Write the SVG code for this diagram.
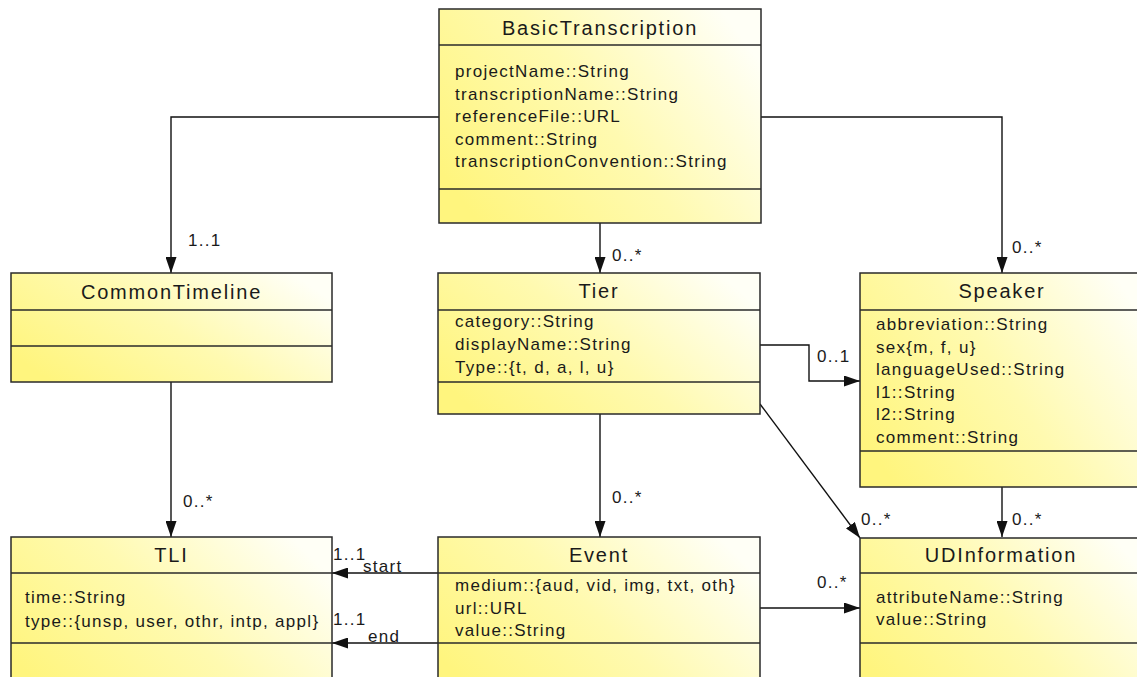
<svg xmlns="http://www.w3.org/2000/svg" width="1137" height="677" viewBox="0 0 1137 677">
<defs>
<linearGradient id="yg" x1="0" y1="0.75" x2="1" y2="0.25">
<stop offset="0" stop-color="#FFF57E"/>
<stop offset="0.5" stop-color="#FFFAB0"/>
<stop offset="1" stop-color="#FFFFF6"/>
</linearGradient>
<marker id="ah" markerUnits="userSpaceOnUse" markerWidth="16" markerHeight="11" refX="16" refY="5.5" orient="auto">
<path d="M0,0 L16,5.5 L0,11 z" fill="#111"/>
</marker>
</defs>
<style>
.box{fill:url(#yg);stroke:#2a2a2a;stroke-width:1.5}
.div{stroke:#2a2a2a;stroke-width:1.5}
.t{font-family:"Liberation Sans",Arial,sans-serif;font-size:20px;letter-spacing:1.8px;fill:#1a1a1a;text-anchor:middle}
.a{font-family:"Liberation Sans",Arial,sans-serif;font-size:17px;letter-spacing:1.3px;fill:#1a1a1a}
.c{fill:none;stroke:#111;stroke-width:1.4;marker-end:url(#ah)}
</style>
<rect width="1137" height="677" fill="#fff"/>

<g id="connectors">
<polyline class="c" points="439,117 171,117 171,273"/>
<polyline class="c" points="600,223 600,273"/>
<polyline class="c" points="761,117 1002,117 1002,273"/>
<polyline class="c" points="760,345 809,345 809,381 860,381"/>
<polyline class="c" points="760,404 860,538"/>
<polyline class="c" points="171,382 171,537"/>
<polyline class="c" points="600,414 600,537"/>
<polyline class="c" points="1002,487 1002,537"/>
<polyline class="c" points="760,608 860,608"/>
<polyline class="c" points="438,573 332,573"/>
<polyline class="c" points="438,643 332,643"/>
<text class="a" x="188" y="246">1..1</text>
<text class="a" x="612" y="261">0..*</text>
<text class="a" x="1012" y="253">0..*</text>
<text class="a" x="817" y="362">0..1</text>
<text class="a" x="861" y="525">0..*</text>
<text class="a" x="183" y="507">0..*</text>
<text class="a" x="612" y="503">0..*</text>
<text class="a" x="1012" y="525">0..*</text>
<text class="a" x="817" y="588">0..*</text>
<text class="a" x="333" y="560">1..1</text>
<text class="a" x="363" y="572">start</text>
<text class="a" x="333" y="625">1..1</text>
<text class="a" x="368" y="642">end</text>
</g>

<g id="BasicTranscription">
<rect class="box" x="439" y="9" width="322" height="214"/>
<line class="div" x1="439" y1="45" x2="761" y2="45"/>
<line class="div" x1="439" y1="189" x2="761" y2="189"/>
<text class="t" x="600" y="35">BasicTranscription</text>
<text class="a" x="455" y="77">projectName::String</text>
<text class="a" x="455" y="99.5">transcriptionName::String</text>
<text class="a" x="455" y="122">referenceFile::URL</text>
<text class="a" x="455" y="144.5">comment::String</text>
<text class="a" x="455" y="167">transcriptionConvention::String</text>
</g>

<g id="CommonTimeline">
<rect class="box" x="11" y="273" width="321" height="109"/>
<line class="div" x1="11" y1="310" x2="332" y2="310"/>
<line class="div" x1="11" y1="346" x2="332" y2="346"/>
<text class="t" x="171.5" y="299">CommonTimeline</text>
</g>

<g id="Tier">
<rect class="box" x="438" y="273" width="322" height="141"/>
<line class="div" x1="438" y1="310" x2="760" y2="310"/>
<line class="div" x1="438" y1="382" x2="760" y2="382"/>
<text class="t" x="599" y="298">Tier</text>
<text class="a" x="455" y="327">category::String</text>
<text class="a" x="455" y="350">displayName::String</text>
<text class="a" x="455" y="373">Type::{t, d, a, l, u}</text>
</g>

<g id="Speaker">
<rect class="box" x="860" y="273" width="290" height="214"/>
<line class="div" x1="860" y1="310" x2="1150" y2="310"/>
<line class="div" x1="860" y1="451" x2="1150" y2="451"/>
<text class="t" x="1002" y="298">Speaker</text>
<text class="a" x="876" y="330">abbreviation::String</text>
<text class="a" x="876" y="352.5">sex{m, f, u}</text>
<text class="a" x="876" y="375">languageUsed::String</text>
<text class="a" x="876" y="397.5">l1::String</text>
<text class="a" x="876" y="420">l2::String</text>
<text class="a" x="876" y="442.5">comment::String</text>
</g>

<g id="TLI">
<rect class="box" x="11" y="537" width="321" height="160"/>
<line class="div" x1="11" y1="573" x2="332" y2="573"/>
<line class="div" x1="11" y1="643" x2="332" y2="643"/>
<text class="t" x="171.5" y="562">TLI</text>
<text class="a" x="25" y="603">time::String</text>
<text class="a" x="25" y="627">type::{unsp, user, othr, intp, appl}</text>
</g>

<g id="Event">
<rect class="box" x="438" y="537" width="322" height="160"/>
<line class="div" x1="438" y1="573" x2="760" y2="573"/>
<line class="div" x1="438" y1="643" x2="760" y2="643"/>
<text class="t" x="599" y="562">Event</text>
<text class="a" x="455" y="591">medium::{aud, vid, img, txt, oth}</text>
<text class="a" x="455" y="613.5">url::URL</text>
<text class="a" x="455" y="636">value::String</text>
</g>

<g id="UDInformation">
<rect class="box" x="860" y="538" width="290" height="160"/>
<line class="div" x1="860" y1="573" x2="1150" y2="573"/>
<line class="div" x1="860" y1="643" x2="1150" y2="643"/>
<text class="t" x="1001" y="562">UDInformation</text>
<text class="a" x="876" y="603">attributeName::String</text>
<text class="a" x="876" y="625">value::String</text>
</g>
</svg>
